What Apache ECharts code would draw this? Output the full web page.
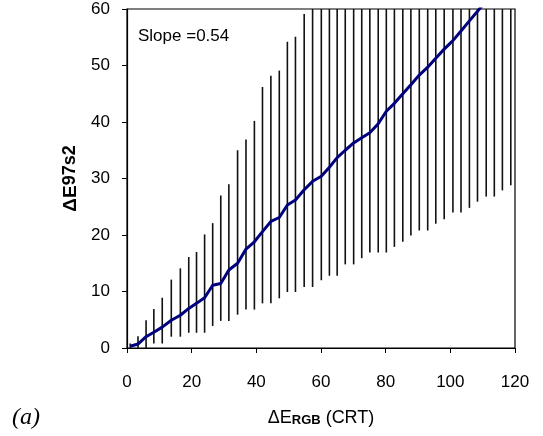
<!DOCTYPE html>
<html>
<head>
<meta charset="utf-8">
<script src="https://cdn.jsdelivr.net/npm/echarts@6/dist/echarts.min.js"></script>
<style>
html,body{margin:0;padding:0;background:#fff;}
#c{width:543px;height:436px;}
</style>
</head>
<body>
<div id="c"></div>
<script>
// Bin positions (ΔE_RGB)
var binX = [1.0, 3.4, 5.9, 8.3, 10.9, 13.7, 16.5, 19.1, 21.5, 24.0, 26.5, 29.0, 31.5, 34.2, 36.8, 39.4, 41.9, 44.5, 47.1, 49.6, 52.1, 54.8, 57.4,
  60.1, 62.6, 65.0, 67.5, 70.1, 72.6, 75.1, 77.7, 80.2, 82.7, 85.3, 87.8, 90.4, 93.0, 95.5, 98.1, 100.8, 103.3, 105.9, 108.4, 111.1, 113.6, 116.1, 118.7];
// Range low / high (error bars)
var lowVals = [0, 0, 0, 0.8, 0.8, 2.0, 2.0, 2.7, 2.7, 2.7, 3.9, 4.8, 4.8, 5.9, 6.8, 6.8, 7.9, 7.9, 8.8, 9.9, 9.9, 10.8, 10.8,
  12.0, 12.8, 12.8, 14.8, 14.8, 15.9, 16.9, 16.9, 16.9, 17.9, 18.8, 19.9, 20.8, 20.8, 22.0, 22.8, 24.0, 24.0, 24.8, 25.9, 26.8, 26.8, 27.9, 28.8];
var highVals = [0.8, 2.1, 4.9, 6.9, 8.9, 12.1, 14.1, 16.1, 17.0, 20.1, 22.1, 27.0, 29.0, 35.0, 36.9, 40.2, 46.2, 48.2, 49.1, 54.2, 55.1, 59.1, 60,
  60, 60, 60, 60, 60, 60, 60, 60, 60, 60, 60, 60, 60, 60, 60, 60, 60, 60, 60, 60, 60, 60, 60, 60];
// Mean ΔE97s2 (line)
var meanVals = [0.3, 0.7, 2.0, 2.8, 3.7, 4.9, 5.8, 7.0, 7.9, 8.9, 11.1, 11.4, 13.8, 15.0, 17.5, 18.8, 20.6, 22.4, 23.1, 25.3, 26.2, 28.0, 29.5,
  30.4, 32.0, 33.7, 35.0, 36.3, 37.2, 38.1, 39.7, 41.9, 43.3, 45.0, 46.6, 48.3, 49.7, 51.3, 52.9, 54.4, 56.1, 57.9, 59.6, 61.5];
var xTicks = ['0', '20', '40', '60', '80', '100', '120'];
var yTicks = ['0', '10', '20', '30', '40', '50', '60'];

var barData = binX.map(function (x, i) { return [x, lowVals[i], highVals[i]]; });
var lineData = meanVals.map(function (v, i) { return [binX[i], v]; });

var chart = echarts.init(document.getElementById('c'), null, { renderer: 'canvas' });
var lab = { color: '#000', fontFamily: 'Liberation Sans, Arial, sans-serif', fontSize: 17 };
chart.setOption({
  animation: false,
  backgroundColor: '#fff',
  grid: { left: 127, right: 28, top: 9, bottom: 88, show: true, borderColor: '#000', borderWidth: 1.2, backgroundColor: 'transparent' },
  xAxis: {
    type: 'value', min: 0, max: 120, interval: 20,
    axisLine: { show: true, onZero: false, lineStyle: { color: '#000', width: 1.2 } },
    axisTick: { show: true, inside: false, length: 5, lineStyle: { color: '#000' } },
    splitLine: { show: false },
    axisLabel: Object.assign({ margin: 26, formatter: function (v) { return xTicks[Math.round(v / 20)]; } }, lab),
    name: '{d|Δ}{e|E}{s|RGB}{n| (CRT)}',
    nameLocation: 'middle', nameGap: 61,
    nameTextStyle: {
      rich: {
        d: { fontFamily: 'Liberation Sans', fontSize: 18, color: '#000' },
        e: { fontFamily: 'Liberation Sans', fontSize: 18, color: '#000' },
        s: { fontFamily: 'Liberation Sans', fontSize: 13, fontWeight: 'bold', color: '#000', verticalAlign: 'bottom', padding: [5, 0, 0, 0] },
        n: { fontFamily: 'Liberation Sans', fontSize: 18, color: '#000' }
      }
    }
  },
  yAxis: {
    type: 'value', min: 0, max: 60, interval: 10,
    axisLine: { show: true, onZero: false, lineStyle: { color: '#000', width: 1.2 } },
    axisTick: { show: true, inside: false, length: 5, lineStyle: { color: '#000' } },
    splitLine: { show: false },
    axisLabel: Object.assign({ margin: 17, formatter: function (v) { return yTicks[Math.round(v / 10)]; } }, lab),
    name: '{d|ΔE}{s|97s2}',
    nameLocation: 'middle', nameGap: 38, nameRotate: 90,
    nameTextStyle: {
      rich: {
        d: { fontFamily: 'Liberation Sans', fontSize: 19, fontWeight: 'bold', color: '#000', verticalAlign: 'bottom' },
        s: { fontFamily: 'Liberation Sans', fontSize: 18, fontWeight: 'bold', color: '#000', verticalAlign: 'top' }
      }
    }
  },
  series: [
    {
      type: 'custom',
      clip: true,
      data: barData,
      encode: { x: 0, y: [1, 2] },
      renderItem: function (params, api) {
        var p1 = api.coord([api.value(0), api.value(1)]);
        var p2 = api.coord([api.value(0), api.value(2)]);
        return {
          type: 'line',
          shape: { x1: p1[0], y1: p1[1], x2: p2[0], y2: p2[1] },
          style: { stroke: '#111', lineWidth: 1.6 }
        };
      },
      z: 2
    },
    {
      type: 'line',
      data: lineData,
      clip: true,
      symbol: 'none',
      lineStyle: { color: '#00007f', width: 3 },
      z: 3
    }
  ],
  graphic: [
    { type: 'text', left: 138, top: 28, style: { text: 'Slope =0.54', font: '17px Liberation Sans', fill: '#000' } },
    { type: 'text', left: 12, top: 406, style: { text: '(a)', font: 'italic 24px Liberation Serif', fill: '#000' } }
  ]
});
</script>
</body>
</html>
